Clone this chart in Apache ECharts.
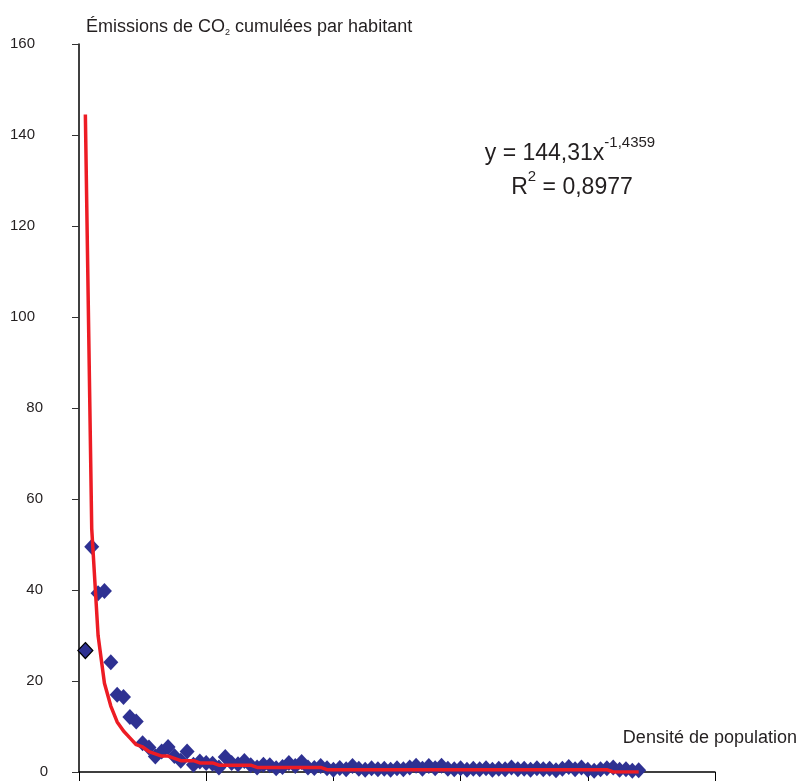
<!DOCTYPE html>
<html>
<head>
<meta charset="utf-8">
<script src="https://cdn.jsdelivr.net/npm/echarts@6/dist/echarts.min.js"></script>
<style>
  html, body { margin: 0; padding: 0; background: #fff; }
  #chart { width: 799px; height: 782px; }
</style>
</head>
<body>
<div id="chart"></div>
<script>
// rang du pays (1..88) et émissions cumulées par habitant
var emissions = [
  26.7, 49.5, 39.3, 39.8, 24.1, 17.0, 16.5, 12.1, 11.1, 6.3,
  5.4, 3.4, 4.5, 5.5, 3.5, 2.5, 4.5, 1.6, 2.3, 2.0,
  1.8, 1.0, 3.3, 2.0, 1.7, 2.4, 1.5, 1.0, 1.6, 1.5,
  0.8, 1.1, 2.0, 1.3, 2.2, 1.0, 0.9, 1.3, 0.8, 0.5,
  0.9, 0.6, 1.3, 0.7, 0.5, 0.8, 0.6, 0.7, 0.5, 0.8,
  0.6, 1.0, 1.4, 0.7, 1.3, 0.8, 1.4, 0.7, 0.6, 0.8,
  0.5, 0.7, 0.6, 0.8, 0.5, 0.7, 0.6, 1.0, 0.6, 0.7,
  0.5, 0.8, 0.6, 0.7, 0.4, 0.7, 1.1, 0.6, 1.0, 0.5,
  0.3, 0.6, 0.8, 1.0, 0.5, 0.6, 0.3, 0.4
];
// courbe de tendance (valeurs arrondies telles que tracées)
var tendance = [
  144.5, 53.5, 30, 19.5, 14.5, 11, 9, 7.5, 6, 5.5,
  4.5, 4, 3.5, 3.5, 3, 2.5, 2.5, 2.5, 2, 2,
  2, 1.5, 1.5, 1.5, 1.5, 1.5, 1.5, 1, 1, 1,
  1, 1, 1, 1, 1, 1, 1, 1, 0.5, 0.5,
  0.5, 0.5, 0.5, 0.5, 0.5, 0.5, 0.5, 0.5, 0.5, 0.5,
  0.5, 0.5, 0.5, 0.5, 0.5, 0.5, 0.5, 0.5, 0.5, 0.5,
  0.5, 0.5, 0.5, 0.5, 0.5, 0.5, 0.5, 0.5, 0.5, 0.5,
  0.5, 0.5, 0.5, 0.5, 0.5, 0.5, 0.5, 0.5, 0.5, 0.5,
  0.5, 0.5, 0.5, 0, 0, 0, 0, 0
];
var yTicks = [0, 20, 40, 60, 80, 100, 120, 140, 160];

var FONT = '"Liberation Sans", Arial, sans-serif';
var INK = '#231f20';

var points = emissions.map(function (v, i) {
  var p = { value: [i + 1, v] };
  if (i === 0) p.itemStyle = { borderColor: '#000', borderWidth: 1.2 };
  return p;
});
var curve = tendance.map(function (v, i) { return [i + 1, v]; });

var myChart = echarts.init(document.getElementById('chart'));

var labelRich = {
  p1: { fontSize: 15, fontFamily: FONT, color: INK, padding: [0, 0, 0, 0] },
  p2: { fontSize: 15, fontFamily: FONT, color: INK, padding: [0, 5, 0, 0] },
  p3: { fontSize: 15, fontFamily: FONT, color: INK, padding: [0, 13, 0, 0] }
};

var option = {
  backgroundColor: '#fff',
  animation: false,
  grid: { left: 79, right: 84, top: 44, bottom: 10, containLabel: false },
  xAxis: {
    type: 'value',
    min: 0, max: 100, interval: 20,
    axisLine: { show: true, onZero: false, lineStyle: { color: '#000', width: 1.5 } },
    axisTick: { show: true, inside: false, length: 9, lineStyle: { color: '#000', width: 1 } },
    axisLabel: { show: false },
    splitLine: { show: false }
  },
  yAxis: {
    type: 'value',
    min: yTicks[0], max: yTicks[yTicks.length - 1], interval: 20,
    axisLine: { show: true, lineStyle: { color: '#000', width: 1.5 } },
    axisTick: { show: true, inside: false, length: 7, lineStyle: { color: '#333', width: 1 } },
    axisLabel: {
      margin: 31,
      formatter: function (v) { return '{p' + String(v).length + '|' + v + '}'; },
      rich: labelRich
    },
    splitLine: { show: false }
  },
  graphic: [
    {
      type: 'text',
      style: {
        x: 86, y: 27,
        text: 'Émissions de CO{sub|2} cumulées par habitant',
        fill: INK, fontSize: 18, fontFamily: FONT, lineHeight: 20,
        align: 'left', verticalAlign: 'middle',
        rich: {
          sub: { fontSize: 9, fontFamily: FONT, fill: INK, lineHeight: 6, verticalAlign: 'bottom' }
        }
      }
    },
    {
      type: 'text',
      style: {
        x: 797, y: 738,
        text: 'Densité de population',
        fill: INK, fontSize: 18, fontFamily: FONT,
        align: 'right', verticalAlign: 'middle'
      }
    },
    {
      type: 'text',
      style: {
        x: 570, y: 150,
        text: '{m|y = 144,31x}{s|-1,4359}',
        fill: INK, fontFamily: FONT,
        align: 'center', verticalAlign: 'middle',
        rich: {
          m: { fontSize: 23, fontFamily: FONT, fill: INK, lineHeight: 30, verticalAlign: 'bottom' },
          s: { fontSize: 15, fontFamily: FONT, fill: INK, lineHeight: 15, verticalAlign: 'top' }
        }
      }
    },
    {
      type: 'text',
      style: {
        x: 572, y: 184,
        text: '{m|R}{s|2}{m| = 0,8977}',
        fill: INK, fontFamily: FONT,
        align: 'center', verticalAlign: 'middle',
        rich: {
          m: { fontSize: 23, fontFamily: FONT, fill: INK, lineHeight: 30, verticalAlign: 'bottom' },
          s: { fontSize: 15, fontFamily: FONT, fill: INK, lineHeight: 17, verticalAlign: 'top' }
        }
      }
    }
  ],
  series: [
    {
      name: 'Émissions',
      type: 'scatter',
      symbol: 'diamond',
      symbolSize: [15, 16],
      itemStyle: { color: '#2e3192', opacity: 1 },
      data: points,
      z: 2
    },
    {
      name: 'Tendance',
      type: 'line',
      data: curve,
      showSymbol: false,
      smooth: false,
      lineStyle: { color: '#ed1c24', width: 3.5 },
      z: 3
    }
  ]
};

myChart.setOption(option);
</script>
</body>
</html>
